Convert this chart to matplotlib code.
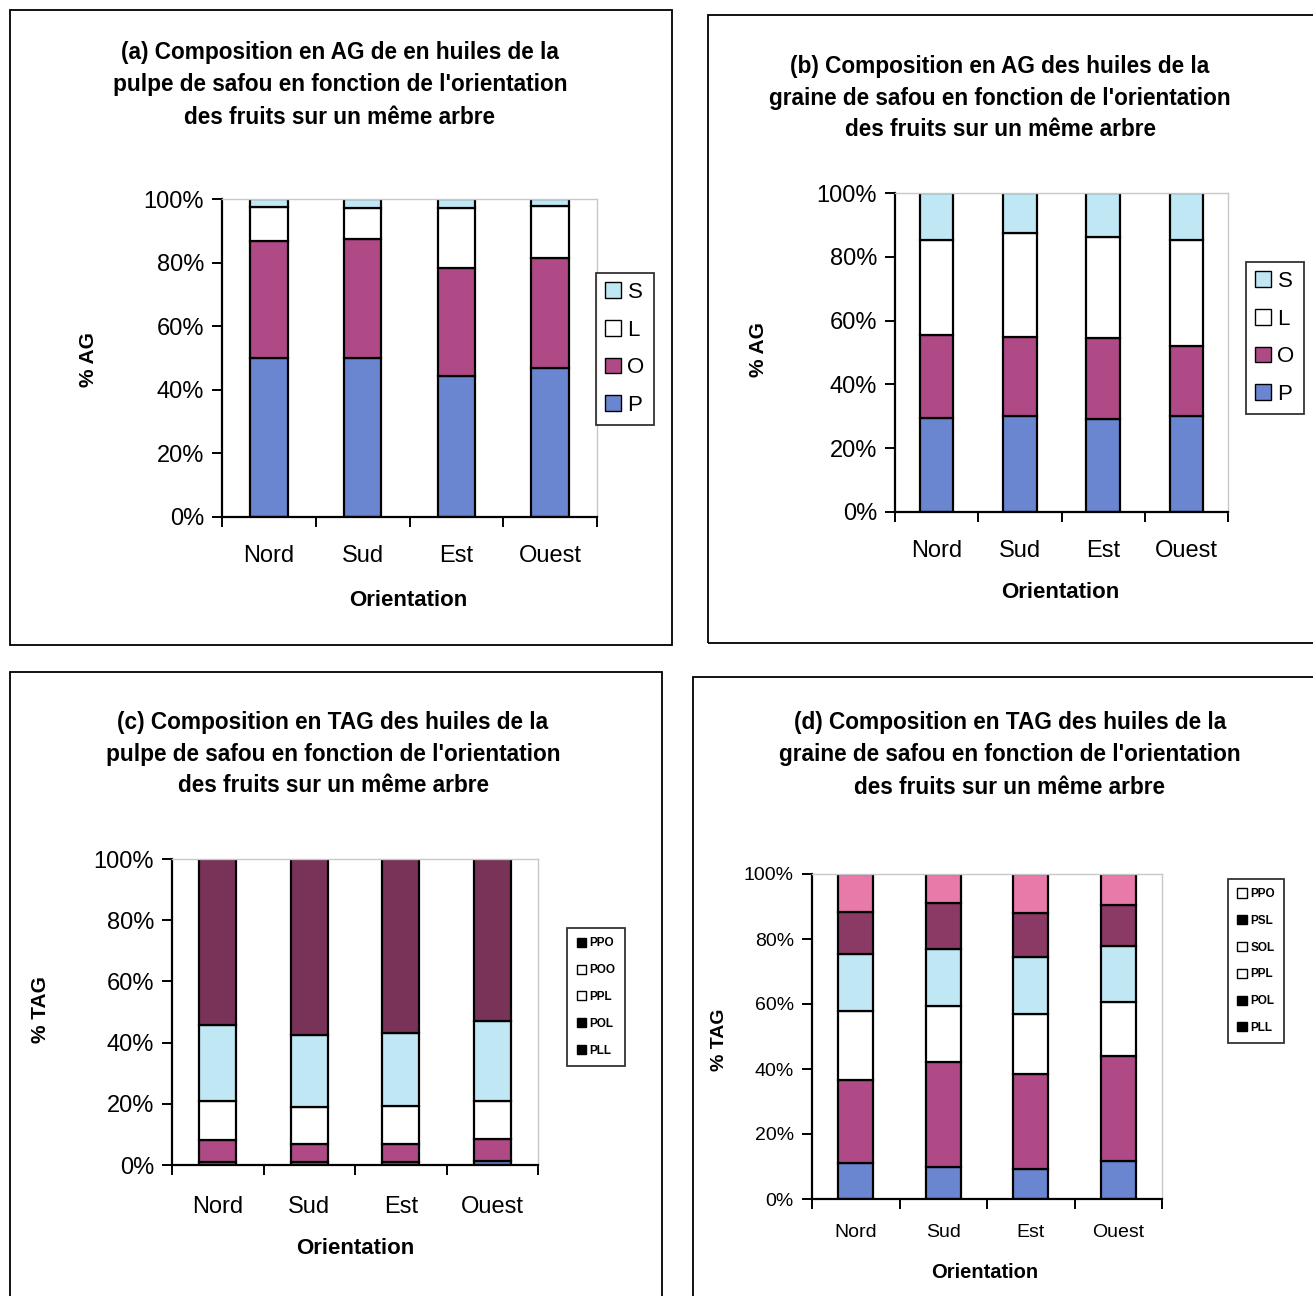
import matplotlib
matplotlib.use("Agg")
import matplotlib.pyplot as plt
from matplotlib.patches import Rectangle, Patch

plt.rcParams['font.family'] = ['Liberation Sans', 'DejaVu Sans']

W, H = 1313, 1296

orientations = ['Nord', 'Sud', 'Est', 'Ouest']

# (a) AG pulpe, segment values in %
ag_pulpe = {
    'P': [49.9, 49.9, 44.4, 47.0],
    'O': [36.8, 37.4, 34.0, 34.5],
    'L': [10.8, 9.9, 18.8, 16.4],
    'S': [2.5, 2.8, 2.8, 2.1],
}
# (b) AG graine
ag_graine = {
    'P': [29.6, 30.0, 29.0, 30.0],
    'O': [25.9, 25.0, 25.5, 22.1],
    'L': [29.8, 32.4, 31.7, 33.2],
    'S': [14.7, 12.6, 13.8, 14.7],
}
# (c) TAG pulpe
tag_pulpe = {
    'PLL': [1.1, 0.9, 0.9, 1.4],
    'POL': [7.1, 6.0, 6.0, 7.0],
    'PPL': [12.8, 12.2, 12.4, 12.6],
    'POO': [24.8, 23.4, 24.0, 25.9],
    'PPO': [54.2, 57.5, 56.7, 53.1],
}
# (d) TAG graine
tag_graine = {
    'PLL': [11.1, 9.8, 9.3, 11.6],
    'POL': [25.6, 32.3, 29.2, 32.3],
    'PPL': [21.0, 17.4, 18.4, 16.6],
    'SOL': [17.6, 17.4, 17.7, 17.2],
    'PSL': [12.9, 14.1, 13.3, 12.8],
    'PPO': [11.8, 9.0, 12.1, 9.5],
}

colors = {
    'P': '#6a86d0', 'O': '#b04a86', 'L': '#ffffff', 'S': '#bfe8f4',
    'PLL': '#6a86d0', 'POL': '#b04a86', 'PPL': '#ffffff', 'POO': '#bfe8f4',
    'SOL': '#bfe8f4', 'PSL': '#8a3a64', 'PPO_c': '#7a3358', 'PPO_d': '#e87aaa',
}


def rect(x0, y0, x1, y1):
    return [x0 / W, 1 - y1 / H, (x1 - x0) / W, (y1 - y0) / H]


fig = plt.figure(figsize=(W / 100, H / 100), dpi=100)

# panel frames
for x0, y0, x1, y1 in [(10, 10, 672, 645), (708, 15, 1320, 643),
                       (10, 672, 662, 1300), (693, 677, 1320, 1300)]:
    fig.add_artist(Rectangle((x0 / W, 1 - y1 / H), (x1 - x0) / W, (y1 - y0) / H,
                             transform=fig.transFigure, fill=False,
                             edgecolor='black', linewidth=1.3))


def stacked(ax, data, keys, cmap, tick_fs, xpad):
    x = range(len(orientations))
    bottom = [0.0] * len(orientations)
    for k in keys:
        ax.bar(x, data[k], 0.4, bottom=bottom, color=cmap[k],
               edgecolor='black', linewidth=1.6, label=k)
        bottom = [bo + v for bo, v in zip(bottom, data[k])]
    ax.set_xlim(-0.5, 3.5)
    ax.set_ylim(0, 100)
    ax.set_yticks([0, 20, 40, 60, 80, 100])
    ax.set_yticklabels([f'{t}%' for t in [0, 20, 40, 60, 80, 100]])
    ax.set_xticks(list(x))
    ax.set_xticklabels(orientations)
    ax.set_xticks([-0.5, 0.5, 1.5, 2.5, 3.5], minor=True)
    ax.tick_params(axis='x', which='major', length=0, labelsize=tick_fs, pad=xpad)
    ax.tick_params(axis='x', which='minor', length=7, width=1.4, direction='out')
    ax.tick_params(axis='y', length=7, width=1.4, labelsize=tick_fs, pad=6)
    for s in ['left', 'bottom']:
        ax.spines[s].set_linewidth(1.6)
    for s in ['top', 'right']:
        ax.spines[s].set_color('#c8c8c8')
        ax.spines[s].set_linewidth(1.0)


title_kw = dict(ha='center', va='center', fontsize=16.3, fontweight='bold',
                linespacing=1.5)
big_leg = dict(loc='center', bbox_transform=fig.transFigure, fontsize=16,
               frameon=True, fancybox=False, edgecolor='black', handlelength=0.7,
               handleheight=0.7, handletextpad=0.3, labelspacing=0.75,
               borderpad=0.4, borderaxespad=0)
small_leg = dict(loc='center', bbox_transform=fig.transFigure,
                 prop={'size': 8.5, 'weight': 'bold'}, frameon=True, fancybox=False,
                 edgecolor='black', handlelength=0.8, handleheight=0.8,
                 handletextpad=0.3, labelspacing=1.25, borderpad=0.8, borderaxespad=0)

# ---- (a)
ax = fig.add_axes(rect(222, 199, 597, 517))
stacked(ax, ag_pulpe, ['P', 'O', 'L', 'S'], colors, 17, 20)
fig.text(340 / W, 1 - 85 / H,
         "(a) Composition en AG de en huiles de la\npulpe de safou en fonction de l'orientation\ndes fruits sur un même arbre",
         **title_kw)
fig.text(88 / W, 1 - 360 / H, '% AG', rotation=90, ha='center', va='center',
         fontsize=15, fontweight='bold')
fig.text(408 / W, 1 - 600 / H, 'Orientation', ha='center', va='center',
         fontsize=16, fontweight='bold')
h = [Patch(facecolor=colors[k], edgecolor='black', label=k) for k in ['S', 'L', 'O', 'P']]
ax.legend(handles=h, bbox_to_anchor=(625 / W, 1 - 349 / H), **big_leg).get_frame().set_linewidth(1.3)

# ---- (b)
ax = fig.add_axes(rect(895, 193, 1228, 512))
stacked(ax, ag_graine, ['P', 'O', 'L', 'S'], colors, 17, 20)
fig.text(1000 / W, 1 - 98 / H,
         "(b) Composition en AG des huiles de la\ngraine de safou en fonction de l'orientation\ndes fruits sur un même arbre",
         **title_kw)
fig.text(758 / W, 1 - 350 / H, '% AG', rotation=90, ha='center', va='center',
         fontsize=15, fontweight='bold')
fig.text(1060 / W, 1 - 592 / H, 'Orientation', ha='center', va='center',
         fontsize=16, fontweight='bold')
h = [Patch(facecolor=colors[k], edgecolor='black', label=k) for k in ['S', 'L', 'O', 'P']]
ax.legend(handles=h, bbox_to_anchor=(1275 / W, 1 - 338 / H), **big_leg).get_frame().set_linewidth(1.3)

# ---- (c)
cmap_c = dict(colors, PPO=colors['PPO_c'])
ax = fig.add_axes(rect(172, 859, 538, 1165))
stacked(ax, tag_pulpe, ['PLL', 'POL', 'PPL', 'POO', 'PPO'], cmap_c, 17, 22)
fig.text(333 / W, 1 - 754 / H,
         "(c) Composition en TAG des huiles de la\npulpe de safou en fonction de l'orientation\ndes fruits sur un même arbre",
         **title_kw)
fig.text(40 / W, 1 - 1010 / H, '% TAG', rotation=90, ha='center', va='center',
         fontsize=15, fontweight='bold')
fig.text(355 / W, 1 - 1248 / H, 'Orientation', ha='center', va='center',
         fontsize=16, fontweight='bold')
leg_c = {'PPO': 'black', 'POO': 'white', 'PPL': 'white', 'POL': 'black', 'PLL': 'black'}
h = [Patch(facecolor=c, edgecolor='black', label=k) for k, c in leg_c.items()]
ax.legend(handles=h, bbox_to_anchor=(596 / W, 1 - 997 / H), **small_leg).get_frame().set_linewidth(1.3)

# ---- (d)
cmap_d = dict(colors, PPO=colors['PPO_d'])
ax = fig.add_axes(rect(812, 874, 1162, 1199))
stacked(ax, tag_graine, ['PLL', 'POL', 'PPL', 'SOL', 'PSL', 'PPO'], cmap_d, 14, 18)
fig.text(1010 / W, 1 - 755 / H,
         "(d) Composition en TAG des huiles de la\ngraine de safou en fonction de l'orientation\ndes fruits sur un même arbre",
         **title_kw)
fig.text(720 / W, 1 - 1040 / H, '% TAG', rotation=90, ha='center', va='center',
         fontsize=14, fontweight='bold')
fig.text(985 / W, 1 - 1272 / H, 'Orientation', ha='center', va='center',
         fontsize=14.5, fontweight='bold')
leg_d = {'PPO': 'white', 'PSL': 'black', 'SOL': 'white', 'PPL': 'white',
         'POL': 'black', 'PLL': 'black'}
h = [Patch(facecolor=c, edgecolor='black', label=k) for k, c in leg_d.items()]
ax.legend(handles=h, bbox_to_anchor=(1256 / W, 1 - 961 / H), **small_leg).get_frame().set_linewidth(1.3)

fig.savefig('out.png', dpi=100)
